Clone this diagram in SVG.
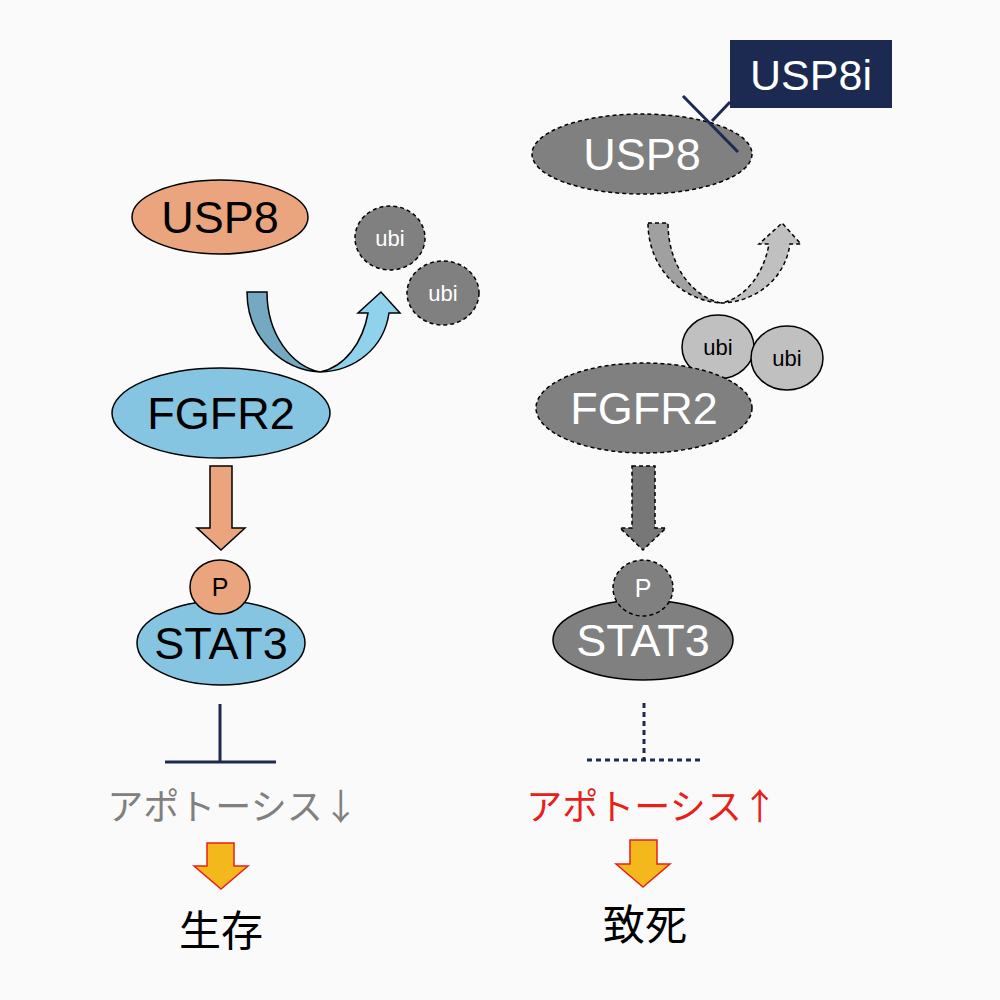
<svg xmlns="http://www.w3.org/2000/svg" width="1000" height="1000" viewBox="0 0 1000 1000">
<defs>
<style>
.lat{font-family:"Liberation Sans",Arial,sans-serif;text-anchor:middle}
.jp{font-family:"Noto Sans CJK JP","Noto Sans",sans-serif;text-anchor:middle}
.sal{fill:#EAA57F;stroke:#000;stroke-width:1.5}
.blu{fill:#85C5E1;stroke:#000;stroke-width:1.5}
.gry{fill:#808080;stroke:#000;stroke-width:1.5}
.dash{stroke-dasharray:4,3}
.lgr{fill:#C0C0C0;stroke:#000;stroke-width:1.5}
.nv{stroke:#1F2A4F;stroke-width:3;fill:none}
.org{fill:#F3B81C;stroke:#E8201A;stroke-width:1.5}
</style>
</defs>
<rect width="1000" height="1000" fill="#fafafa"/>

<g id="usp8-left">
  <ellipse cx="220" cy="217" rx="88" ry="37" class="sal"/>
  <text x="220" y="233" class="lat" font-size="45" fill="#000">USP8</text>
</g>
<g id="ubi-left-1">
  <ellipse cx="390" cy="238" rx="35" ry="32" class="gry dash"/>
  <text x="390" y="246" class="lat" font-size="22" fill="#fff">ubi</text>
</g>
<g id="ubi-left-2">
  <ellipse cx="443" cy="293" rx="36" ry="32" class="gry dash"/>
  <text x="443" y="301" class="lat" font-size="22" fill="#fff">ubi</text>
</g>
<g id="fgfr2-left">
  <ellipse cx="221" cy="413" rx="109" ry="45" class="blu"/>
  <text x="221" y="429" class="lat" font-size="45" fill="#000">FGFR2</text>
</g>
<g id="stat3-left">
  <ellipse cx="221" cy="643" rx="84" ry="42" class="blu"/>
  <text x="221" y="659" class="lat" font-size="45" fill="#000">STAT3</text>
</g>
<g id="p-left">
  <ellipse cx="220" cy="587" rx="30" ry="27" class="sal"/>
  <text x="220" y="596" class="lat" font-size="25" fill="#000">P</text>
</g>
<g id="apoptosis-left">
  <text x="233" y="820" class="jp" font-size="36" fill="#808080">アポトーシス↓</text>
</g>
<g id="survival">
  <text x="221" y="946" class="jp" font-size="42" fill="#000">生存</text>
</g>

<g id="usp8i">
  <rect x="730" y="40" width="162" height="68" fill="#1C2A52"/>
  <text x="811" y="90" class="lat" font-size="43" fill="#fff">USP8i</text>
</g>
<g id="usp8-right">
  <ellipse cx="642" cy="154" rx="110" ry="40" class="gry dash"/>
  <text x="642" y="170" class="lat" font-size="45" fill="#fff">USP8</text>
</g>
<g id="ubi-right-1">
  <ellipse cx="718" cy="347" rx="36" ry="32" class="lgr"/>
  <text x="718" y="355" class="lat" font-size="22" fill="#000">ubi</text>
</g>
<g id="ubi-right-2">
  <ellipse cx="787" cy="358" rx="36" ry="32" class="lgr"/>
  <text x="787" y="366" class="lat" font-size="22" fill="#000">ubi</text>
</g>
<g id="fgfr2-right">
  <ellipse cx="644" cy="408" rx="108" ry="45" class="gry dash"/>
  <text x="644" y="424" class="lat" font-size="45" fill="#fff">FGFR2</text>
</g>
<g id="stat3-right">
  <ellipse cx="643" cy="640" rx="90" ry="40" class="gry"/>
  <text x="643" y="656" class="lat" font-size="45" fill="#fff">STAT3</text>
</g>
<g id="p-right">
  <ellipse cx="643" cy="588" rx="30" ry="28" class="gry dash"/>
  <text x="643" y="597" class="lat" font-size="25" fill="#fff">P</text>
</g>
<g id="apoptosis-right">
  <text x="652" y="820" class="jp" font-size="36" fill="#E8201A">アポトーシス↑</text>
</g>
<g id="death">
  <text x="645" y="940" class="jp" font-size="42" fill="#000">致死</text>
</g>

<g id="connectors">
  <!-- left curved arrow -->
  <path d="M247,292 L267,292 C267,335 292,366 320,372 C282,370 247,338 247,292 Z" fill="#74A9C1" stroke="#000" stroke-width="1.5"/>
  <path d="M320,372 C355,371 384,348 389,313 L400,313 L381,292 L358,313 L368,313 C363,342 345,367 320,372 Z" fill="#90D2EC" stroke="#000" stroke-width="1.5"/>
  <!-- right curved arrow dashed -->
  <g transform="translate(401,-69)">
    <path d="M247,292 L267,292 C267,335 292,366 320,372 C282,370 247,338 247,292 Z" fill="#A0A0A0" stroke="#000" stroke-width="1.5" class="dash"/>
    <path d="M320,372 C355,371 384,348 389,313 L400,313 L381,292 L358,313 L368,313 C363,342 345,367 320,372 Z" fill="#C0C0C0" stroke="#000" stroke-width="1.5" class="dash"/>
  </g>
  <!-- left down arrow -->
  <path d="M210,466 L232,466 L232,528 L245,528 L221,550 L197,528 L210,528 Z" class="sal"/>
  <!-- right down arrow -->
  <path d="M632,466 L655,466 L655,528 L666,528 L643,550 L620,528 L632,528 Z" fill="#777" stroke="#000" stroke-width="1.5" class="dash"/>
  <!-- left inhibition -->
  <path d="M220,704 V762 M165,762 H276" class="nv"/>
  <!-- right dotted inhibition -->
  <path d="M644,703 V760 M587,760 H700" class="nv" stroke-dasharray="5,4"/>
  <!-- USP8i inhibition -->
  <path d="M730,102 L712,121 M683,96 L738,152" class="nv"/>
  <!-- orange arrows -->
  <path d="M207,843 L234,843 L234,866 L248,866 L221,889 L194,866 L207,866 Z" class="org"/>
  <path d="M630,840 L657,840 L657,864 L670,864 L643,887 L616,864 L630,864 Z" class="org"/>
</g>
</svg>
